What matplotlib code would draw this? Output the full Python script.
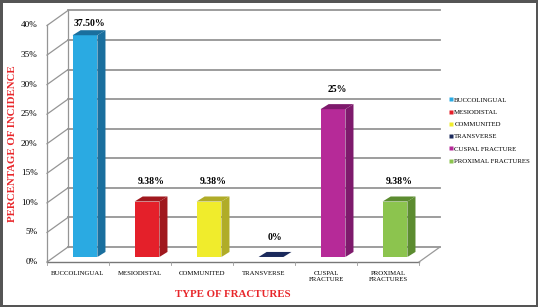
import matplotlib.pyplot as plt
from matplotlib.patches import Polygon, Rectangle
from matplotlib.lines import Line2D

# data
categories = ['BUCCOLINGUAL', 'MESIODISTAL', 'COMMUNITED', 'TRANSVERSE',
              'CUSPAL FRACTURE', 'PROXIMAL FRACTURES']
tick_names = ['BUCCOLINGUAL', 'MESIODISTAL', 'COMMUNITED', 'TRANSVERSE',
              'CUSPAL\nFRACTURE', 'PROXIMAL\nFRACTURES']
values = [37.50, 9.38, 9.38, 0, 25, 9.38]
value_labels = ['37.50%', '9.38%', '9.38%', '0%', '25%', '9.38%']
yticks = [0, 5, 10, 15, 20, 25, 30, 35, 40]

front_cols = ['#2aaae2', '#e4202a', '#f0ec2c', '#1b2a5c', '#b62a98', '#8cc44e']
side_cols = ['#1a6f9e', '#a0181e', '#b0ac28', '#101a40', '#7e1a6c', '#5c8c30']

plt.rcParams['font.family'] = ['Liberation Serif', 'DejaVu Serif']

fig = plt.figure(figsize=(5.38, 3.07), dpi=100)
fig.patch.set_edgecolor('#555555')
fig.patch.set_linewidth(2.5)
ax = fig.add_axes([0, 0, 1, 1])
ax.set_xlim(-1.258, 7.419)
ax.set_ylim(-7.61, 44.31)
ax.axis('off')

# wall depth and bar depth (data units)
wdx, wdy = 0.339, 2.54
bx0, by0 = 0.113, 0.85
bdx, bdy = 0.13, 0.85
w = 0.40
x0, x1 = -0.5, 5.5
grid = '#959595'

# back wall grid and diagonal ties to the front axis
for t in yticks:
    ax.plot([x0 + wdx, x1 + wdx], [t + wdy, t + wdy], color=grid, lw=1.3, zorder=1)
    ax.plot([x0, x0 + wdx], [t, t + wdy], color=grid, lw=0.9, zorder=1)
    ax.text(x0 - 0.15, t, f'{t}%', ha='right', va='center', fontsize=6.6)
ax.plot([x0 + wdx, x0 + wdx], [wdy, 40 + wdy], color=grid, lw=0.9, zorder=1)
ax.plot([x0, x0], [0, 40], color=grid, lw=0.9, zorder=1)

# floor
ax.plot([x0, x1], [0, 0], color='#777777', lw=1.0, zorder=1)
ax.plot([x1, x1 + wdx], [0, wdy], color='#999999', lw=0.9, zorder=1)
for k in range(len(categories) + 1):
    ax.plot([x0 + k, x0 + k], [0, -0.5], color='#999999', lw=0.6, zorder=1)

# bars
for i, v in enumerate(values):
    left = i - w / 2 + bx0
    right = left + w
    if v > 0:
        ax.add_patch(Rectangle((left, by0), w, v, facecolor=front_cols[i],
                               edgecolor='none', zorder=3))
        ax.add_patch(Polygon([(right, by0), (right + bdx, by0 + bdy),
                              (right + bdx, by0 + bdy + v), (right, by0 + v)],
                             facecolor=side_cols[i], edgecolor='none', zorder=3))
    ax.add_patch(Polygon([(left, by0 + v), (left + bdx, by0 + bdy + v),
                          (right + bdx, by0 + bdy + v), (right, by0 + v)],
                         facecolor=side_cols[i] if v > 0 else front_cols[i],
                         edgecolor='none', zorder=3))
    ax.text(i + bx0 + bdx / 2, min(v + 4.2, 40.4), value_labels[i],
            ha='center', va='center', fontsize=7, fontweight='bold', zorder=4)
    ax.text(i, -1.6, tick_names[i], ha='center', va='top', fontsize=4.9,
            linespacing=1.2)

ax.text(2.49, -5.5, 'TYPE OF FRACTURES', ha='center', va='center',
        fontsize=7.8, fontweight='bold', color='#e8262a')
ax.text(-1.05, 20, 'PERCENTAGE OF INCIDENCE', ha='center', va='center',
        rotation=90, fontsize=7.8, fontweight='bold', color='#e8262a')

handles = [Line2D([], [], marker='s', ls='none', markersize=2.6,
                  markerfacecolor=c, markeredgecolor='none') for c in front_cols]
ax.legend(handles, categories, loc='upper left', bbox_to_anchor=(0.828, 0.695),
          frameon=False, fontsize=4.9, handlelength=0.6, handletextpad=0.2,
          labelspacing=0.95, borderpad=0)

fig.savefig('out.png', dpi=100, edgecolor=fig.get_edgecolor())
